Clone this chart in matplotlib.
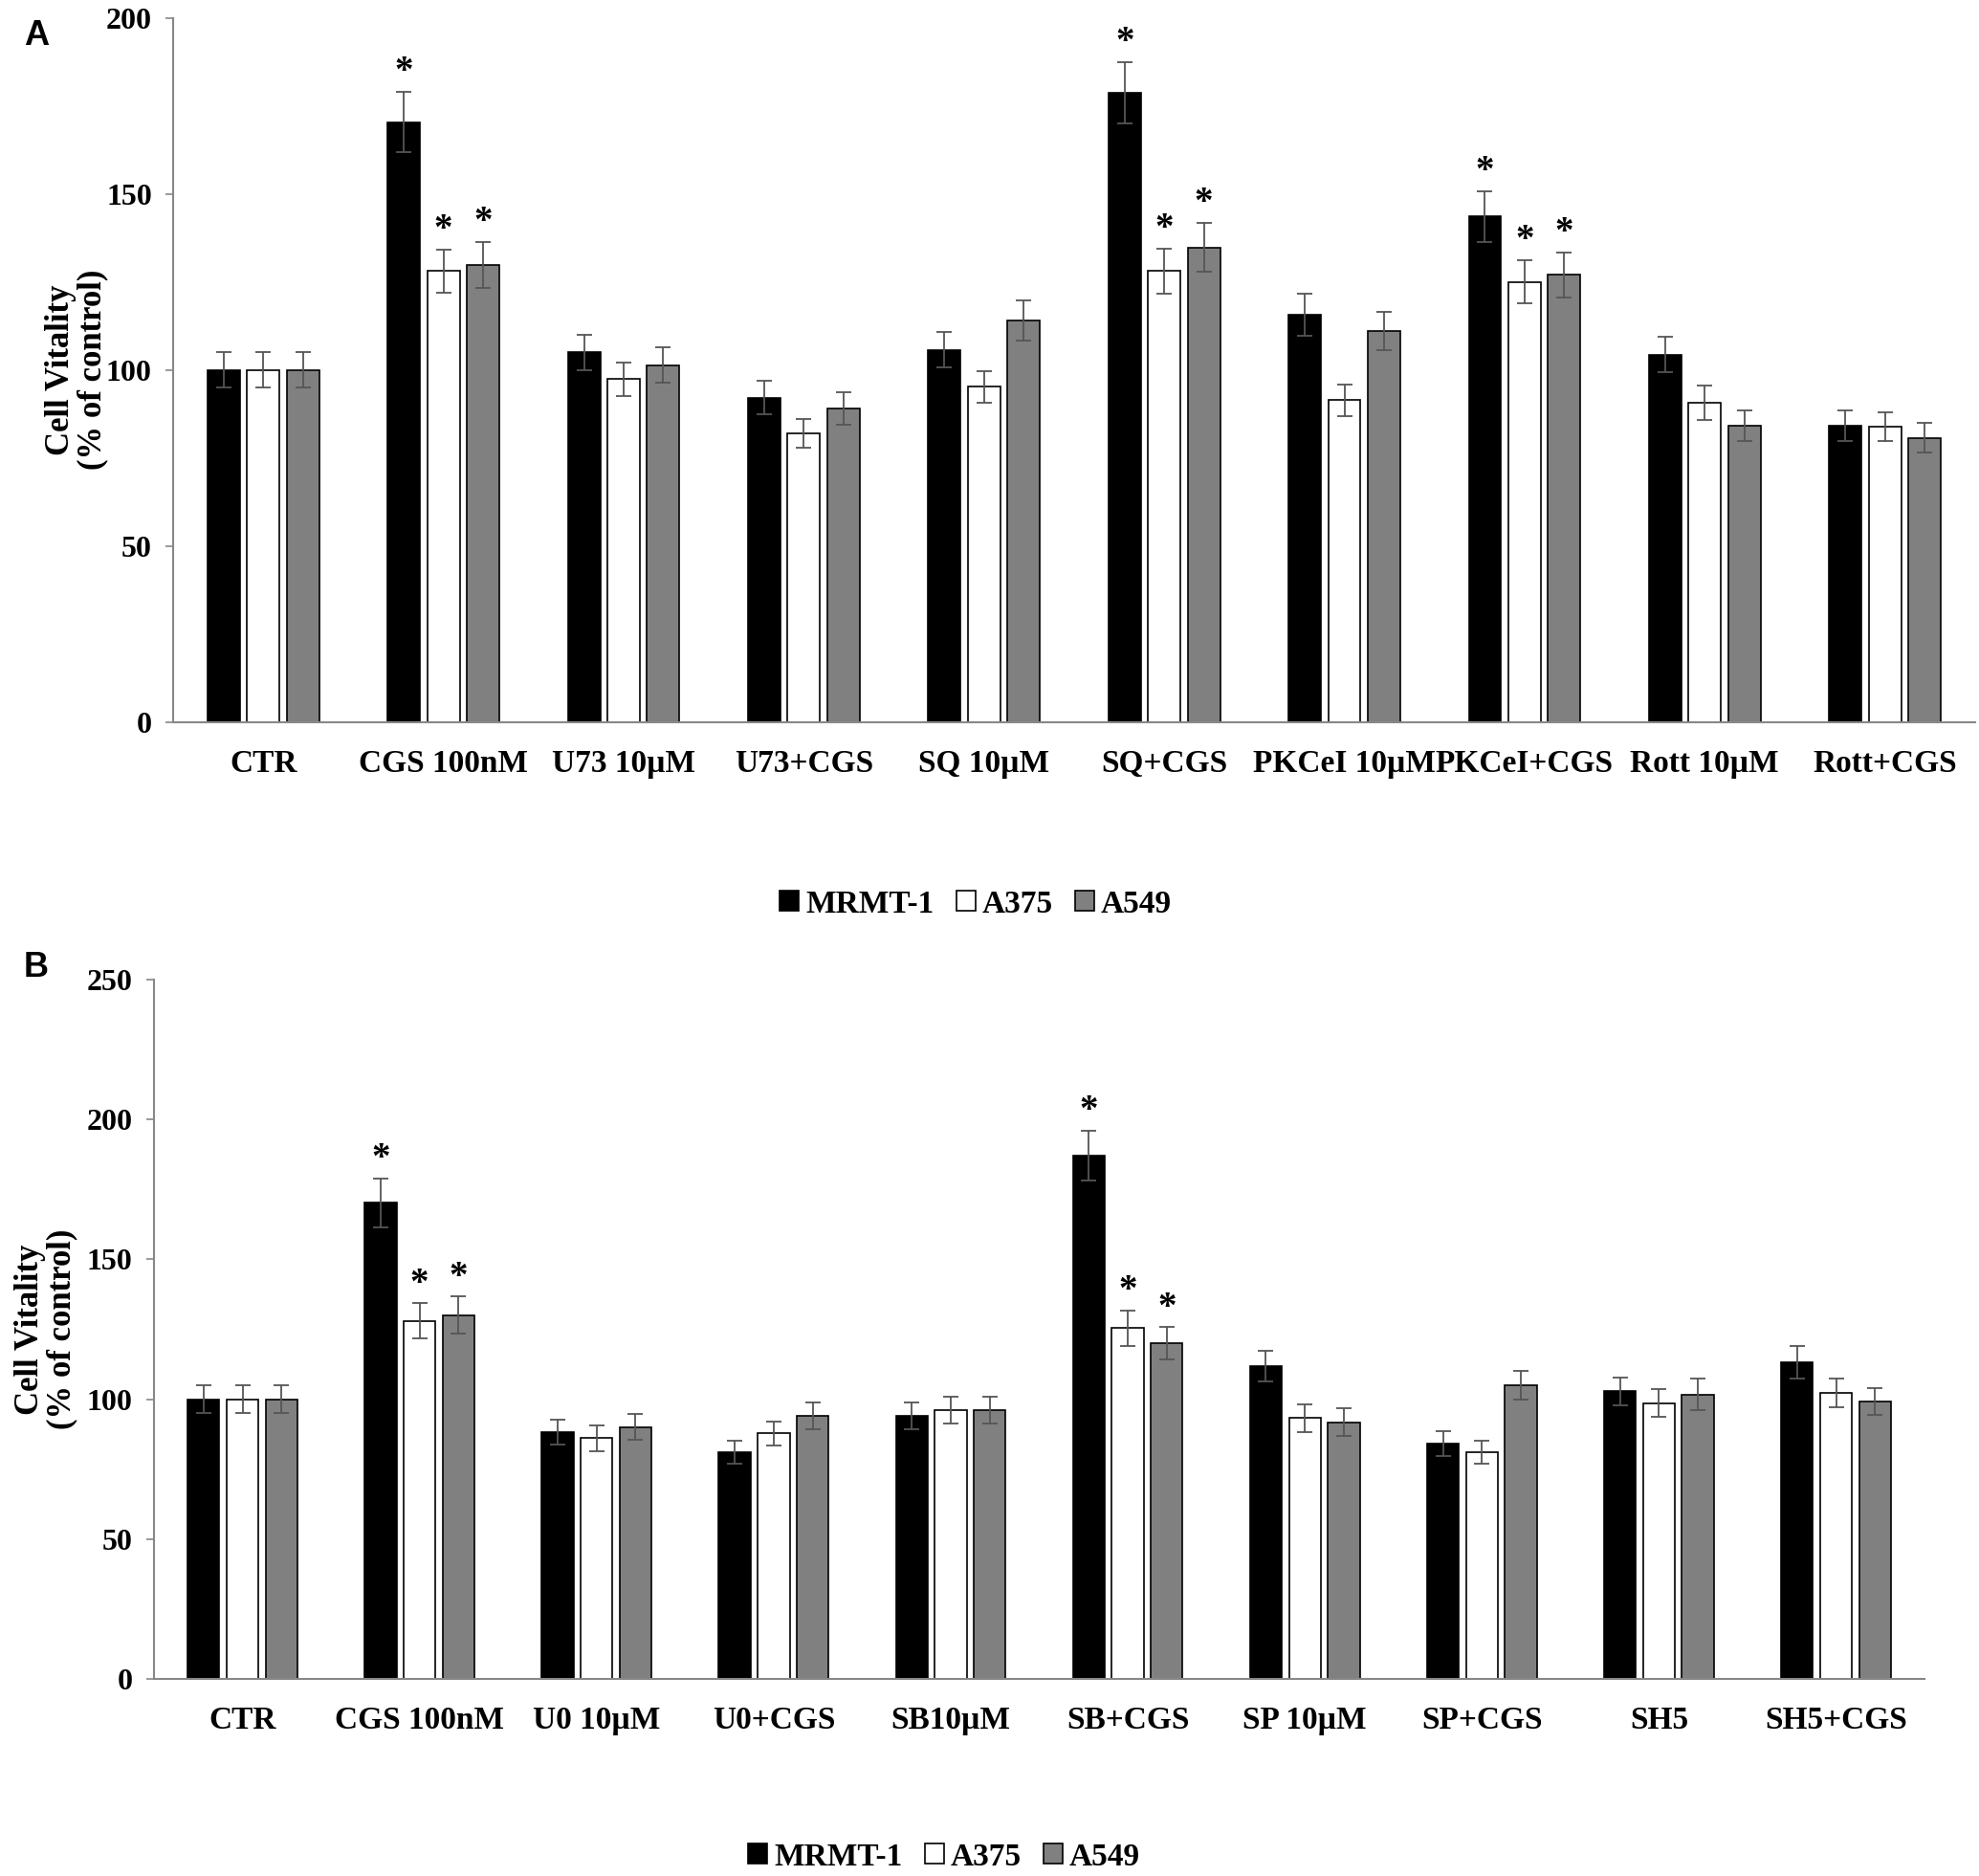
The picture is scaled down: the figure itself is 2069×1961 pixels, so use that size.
import numpy as np
import matplotlib
matplotlib.use('Agg')
import matplotlib.pyplot as plt

plt.rc('font', family='Liberation Serif', weight='bold', size=20)

series = ['MRMT-1', 'A375', 'A549']
colors = ['black', 'white', '#808080']

# panel A
cats_a = ['CTR', 'CGS 100nM', 'U73 10µM', 'U73+CGS', 'SQ 10µM', 'SQ+CGS',
          'PKCeI 10µM', 'PKCeI+CGS', 'Rott 10µM', 'Rott+CGS']
mrmt_a = [100, 170.4, 105, 92.2, 105.7, 178.7, 115.7, 143.6, 104.4, 84.2]
a375_a = [100, 128.1, 97.4, 82, 95.2, 128.1, 91.4, 125, 90.7, 83.9]
a549_a = [100, 129.8, 101.4, 89, 114, 134.8, 111, 127, 84.2, 80.7]
err_mrmt_a = [5, 8.6, 5, 4.7, 5, 8.7, 6, 7.2, 5.1, 4.4]
err_a375_a = [5, 6.1, 4.8, 4.1, 4.5, 6.4, 4.4, 6.1, 4.9, 4]
err_a549_a = [5, 6.6, 5, 4.6, 5.7, 6.9, 5.4, 6.4, 4.4, 4.2]
sig_a = [1, 5, 7]  # groups with * on all three bars

# panel B
cats_b = ['CTR', 'CGS 100nM', 'U0 10µM', 'U0+CGS', 'SB10µM', 'SB+CGS',
          'SP 10µM', 'SP+CGS', 'SH5', 'SH5+CGS']
mrmt_b = [100, 170.1, 88.3, 81, 94, 187, 111.7, 84.1, 102.8, 113.2]
a375_b = [100, 128, 86, 87.8, 96, 125.4, 93.2, 81, 98.6, 102.2]
a549_b = [100, 130, 90, 94, 96, 119.9, 91.8, 104.9, 101.7, 99.1]
err_mrmt_b = [5, 8.7, 4.5, 4, 4.7, 9, 5.4, 4.5, 5, 5.8]
err_a375_b = [5, 6.3, 4.5, 4.3, 4.8, 6.3, 5, 4, 4.9, 5]
err_a549_b = [5, 6.6, 4.6, 4.7, 4.8, 5.8, 5, 5.2, 5.6, 4.9]
sig_b = [1, 5]


def draw_panel(ax, cats, vals, errs, sig, ymax, step):
    x = np.arange(len(cats))
    w = 0.18
    off = [-0.22, 0, 0.22]
    handles = []
    for i in range(3):
        h = ax.bar(x + off[i], vals[i], w, color=colors[i], edgecolor='black',
                   linewidth=1.2, label=series[i], zorder=2)
        ax.errorbar(x + off[i], vals[i], yerr=errs[i], fmt='none',
                    ecolor='#555555', elinewidth=1.3, capsize=6, capthick=1.3, zorder=3)
        handles.append(h)
        for g in sig:
            ax.text(x[g] + off[i], vals[i][g] + errs[i][g] + 0.5, '*',
                    ha='center', va='bottom', fontsize=28)
    ax.set_xlim(-0.5, len(cats) - 0.5)
    ax.set_ylim(0, ymax)
    ax.set_yticks(np.arange(0, ymax + 1, step))
    ax.set_xticks(x)
    ax.set_xticklabels(cats, fontsize=24)
    ax.tick_params(axis='x', length=0, pad=20)
    ax.tick_params(axis='y', length=6, width=1.2, color='#888888', pad=10, labelsize=23)
    for s in ['top', 'right']:
        ax.spines[s].set_visible(False)
    for s in ['left', 'bottom']:
        ax.spines[s].set_color('#888888')
        ax.spines[s].set_linewidth(1.5)
    ax.set_ylabel('Cell Vitality\n(% of control)', fontsize=25, fontweight='bold',
                  linespacing=1.0)
    return handles


fig = plt.figure(figsize=(20.69, 19.61), dpi=100)
ax1 = fig.add_axes([0.0875, 0.615, 0.9105, 0.3755])
ax2 = fig.add_axes([0.0778, 0.105, 0.8947, 0.373])

h1 = draw_panel(ax1, cats_a, [mrmt_a, a375_a, a549_a],
                [err_mrmt_a, err_a375_a, err_a549_a], sig_a, 200, 50)
h2 = draw_panel(ax2, cats_b, [mrmt_b, a375_b, a549_b],
                [err_mrmt_b, err_a375_b, err_a549_b], sig_b, 250, 50)
ax1.yaxis.set_label_coords(-0.036, 0.5)
ax2.yaxis.set_label_coords(-0.043, 0.5)

for h, yc, xc in [(h1, 945, 0.493), (h2, 1941, 0.477)]:
    fig.legend(handles=h, labels=series, loc='center', bbox_to_anchor=(xc, 1 - yc / 1961),
               ncol=3, frameon=False, fontsize=24, handlelength=0.6, handleheight=0.6,
               handletextpad=0.2, columnspacing=0.7)

fig.text(0.012, 0.981, 'A', fontsize=26, family='Liberation Sans', weight='bold', va='center')
fig.text(0.012, 0.484, 'B', fontsize=26, family='Liberation Sans', weight='bold', va='center')

fig.savefig('out.png', dpi=100)
